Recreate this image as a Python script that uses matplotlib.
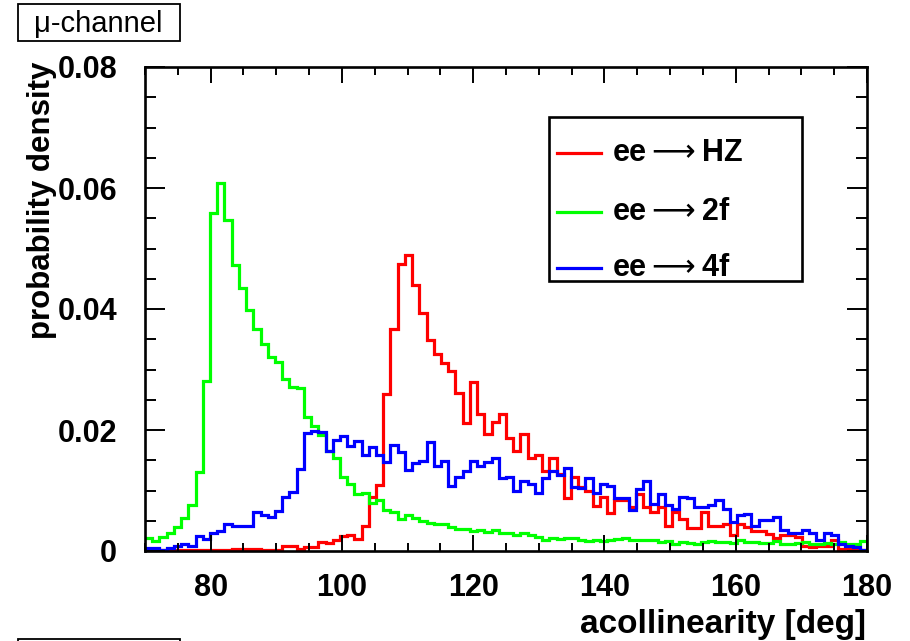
import numpy as np
import matplotlib
matplotlib.use("Agg")
import matplotlib.pyplot as plt
from matplotlib.patches import Rectangle
from matplotlib.ticker import MultipleLocator

plt.rcParams['font.family'] = ['Liberation Sans', 'DejaVu Sans']
plt.rcParams['mathtext.fontset'] = 'dejavusans'

# acollinearity histograms, 100 bins from 70 to 180 deg
# bin contents, in units of 1e-3
x_min, x_max, n_bins = 70, 180, 100

hz = [0.1, 0.1, 0.1, 0.1, 0.1, 0.1, 0.1, 0.1, 0.1, 0.1,
      0.1, 0.1, 0.3, 0.4, 0.4, 0.4, 0.1, 0.1, 0.1, 0.9,
      0.9, 0.4, 0.7, 0.6, 1.5, 1.4, 1.8, 2.4, 2.7, 2.0,
      4.2, 8.9, 10.9, 26.0, 36.7, 47.4, 48.9, 43.9, 39.3, 34.8,
      32.6, 31.1, 29.8, 26.1, 21.2, 27.9, 22.7, 19.3, 21.3, 22.7,
      18.6, 16.6, 19.3, 15.3, 15.8, 13.3, 15.4, 12.8, 8.7, 12.3,
      10.6, 9.9, 7.4, 8.9, 6.2, 8.5, 8.4, 7.3, 9.5, 7.2,
      6.4, 7.3, 4.2, 6.4, 5.3, 3.8, 3.8, 6.4, 4.1, 4.1,
      4.5, 2.6, 4.5, 4.0, 3.3, 3.3, 2.8, 2.2, 2.6, 2.6,
      2.3, 0.8, 0.6, 0.9, 0.8, 1.9, 0.4, 0.4, 0.4, 0.1]

two_f = [2.1, 1.65, 2.3, 2.9, 3.9, 5.5, 7.6, 13.1, 28.1, 55.9,
         60.8, 54.7, 47.2, 43.5, 39.8, 36.7, 34.2, 32.0, 31.2, 28.5,
         27.1, 26.9, 22.1, 20.7, 19.1, 16.5, 15.3, 12.2, 11.1, 9.4,
         9.6, 7.9, 8.4, 6.8, 6.4, 5.3, 5.9, 5.5, 5.0, 4.6,
         4.4, 4.4, 4.0, 3.7, 3.6, 3.3, 3.4, 3.1, 3.4, 2.9,
         2.9, 2.6, 2.9, 2.6, 2.3, 1.9, 2.2, 2.0, 2.2, 2.2,
         1.9, 1.6, 1.8, 1.6, 1.9, 2.0, 2.1, 1.9, 1.8, 1.8,
         1.8, 1.5, 1.7, 1.2, 1.5, 1.3, 1.1, 1.5, 1.7, 1.5,
         1.5, 1.3, 1.8, 1.5, 1.5, 1.3, 1.3, 1.6, 1.2, 1.2,
         1.3, 1.5, 1.1, 1.2, 1.3, 1.2, 1.5, 1.1, 1.2, 1.6]

four_f = [0.5, 0.5, 0.1, 0.5, 0.9, 1.2, 0.8, 2.4, 2.0, 2.9,
          3.3, 4.5, 4.1, 4.2, 4.1, 6.5, 5.9, 5.6, 6.6, 8.9,
          9.8, 13.6, 19.5, 19.9, 19.6, 16.6, 18.4, 19.0, 17.3, 18.2,
          15.8, 17.2, 15.8, 14.7, 17.6, 16.4, 13.4, 14.6, 14.9, 18.0,
          14.0, 14.8, 10.7, 12.3, 13.3, 14.9, 14.0, 14.7, 15.3, 12.0,
          12.2, 10.0, 11.5, 11.1, 9.6, 12.1, 13.3, 12.5, 13.7, 10.6,
          10.4, 12.0, 9.6, 11.1, 10.7, 8.7, 8.7, 6.7, 10.3, 11.6,
          7.7, 9.5, 7.6, 6.9, 8.9, 8.8, 7.3, 7.3, 7.6, 8.4,
          7.0, 4.8, 5.9, 6.1, 4.2, 5.1, 5.2, 5.6, 3.4, 2.9,
          2.9, 3.5, 3.0, 1.9, 2.9, 2.6, 1.2, 0.9, 0.7, 0.2]

labels = ['ee$\\longrightarrow$HZ', 'ee$\\longrightarrow$2f', 'ee$\\longrightarrow$4f']
colors = ['#ff0000', '#00ff00', '#0000ff']

W, H = 910, 641
fig = plt.figure(figsize=(W / 100, H / 100), dpi=100)
ax_l, ax_r, ax_t, ax_b = 145, 867, 67, 551
ax = fig.add_axes([ax_l / W, 1 - ax_b / H, (ax_r - ax_l) / W, (ax_b - ax_t) / H])

edges = np.linspace(x_min, x_max, n_bins + 1)
for vals, col in zip([hz, two_f, four_f], colors):
    ax.stairs(np.array(vals) * 1e-3, edges, color=col, lw=2.3, baseline=None)

ax.set_xlim(x_min, x_max)
ax.set_ylim(0, 0.08)
ax.xaxis.set_major_locator(MultipleLocator(20))
ax.xaxis.set_minor_locator(MultipleLocator(5))
ax.yaxis.set_major_locator(MultipleLocator(0.02))
ax.yaxis.set_minor_locator(MultipleLocator(0.005))
ax.set_yticks([0, 0.02, 0.04, 0.06, 0.08])
ax.set_yticklabels(['0', '0.02', '0.04', '0.06', '0.08'])
ax.set_xticks([80, 100, 120, 140, 160, 180])
ax.set_xticklabels(['80', '100', '120', '140', '160', '180'])

for s in ax.spines.values():
    s.set_linewidth(1.9)
ax.tick_params(which='both', direction='in', top=True, right=True, width=1.4,
               labelsize=22)
for t in ax.get_xticklabels() + ax.get_yticklabels():
    t.set_fontweight('bold')
ax.tick_params(axis='y', which='major', length=14.4, pad=20)
ax.tick_params(axis='y', which='minor', length=7.9)
ax.tick_params(axis='x', which='major', length=11.5, pad=16)
ax.tick_params(axis='x', which='minor', length=5.5)

# axis titles, ROOT style at the ends of the axes
fig.text(866 / W, 1 - 633 / H, 'acollinearity [deg]', fontsize=24,
         fontweight='bold', ha='right', va='baseline')
fig.text(42 / W, 1 - 62 / H, 'probability density', fontsize=22.5,
         fontweight='bold', rotation=90, ha='center', va='top')

# legend box
def ax_frac(px, py):
    return (px - ax_l) / (ax_r - ax_l), 1 - (py - ax_t) / (ax_b - ax_t)

x0, y0 = ax_frac(549, 281)
x1, y1 = ax_frac(802, 117)
ax.add_patch(Rectangle((x0, y0), x1 - x0, y1 - y0, transform=ax.transAxes,
                       facecolor='white', edgecolor='black', lw=1.9, zorder=5))
for lab, col, py in zip(labels, colors, [153, 212, 268]):
    lx0, ly = ax_frac(557, py)
    lx1, _ = ax_frac(601, py)
    ax.plot([lx0, lx1], [ly, ly], color=col, lw=2.3, transform=ax.transAxes,
            zorder=6, clip_on=False)
    tx, _ = ax_frac(612, py)
    ax.text(tx, ly, lab, transform=ax.transAxes, fontsize=22,
            fontweight='bold', ha='left', va='center', zorder=6)

# channel label box at top left
fig.patches.append(Rectangle((18 / W, 1 - 41 / H), 162 / W, 37 / H,
                             transform=fig.transFigure, facecolor='white',
                             edgecolor='black', lw=1.3))
fig.text(98 / W, 1 - 32 / H, '\u03bc-channel', fontsize=21,
         ha='center', va='baseline')
# top edge of a box cut off at the bottom
fig.patches.append(Rectangle((18 / W, -10 / H), 162 / W, 12 / H,
                             transform=fig.transFigure, facecolor='white',
                             edgecolor='black', lw=1.3))

fig.savefig('out.png', dpi=100)
